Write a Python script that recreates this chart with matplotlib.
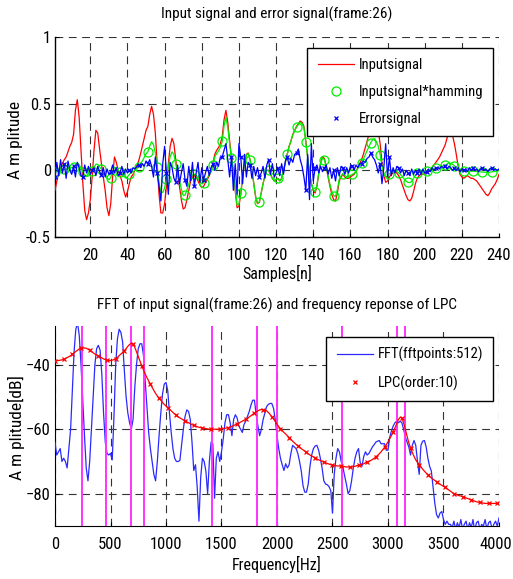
import numpy as np
import matplotlib
matplotlib.use("Agg")
import matplotlib.pyplot as plt
import matplotlib.transforms as mtransforms
from matplotlib.lines import Line2D
from matplotlib import font_manager

_names = {fe.name for fe in font_manager.fontManager.ttflist}
_narrow = [nm for nm in ['Liberation Sans Narrow', 'Roboto Condensed', 'Open Sans Condensed',
                         'Arial Narrow', 'Nimbus Sans Narrow'] if nm in _names]
if _narrow:
    plt.rcParams['font.family'] = [_narrow[0], 'DejaVu Sans']
    TITLE_FS, LEG_FS, XL_FS, TICK_FS, YL_FS = 11, 10.5, 11.5, 12, 12.5
else:
    plt.rcParams['font.family'] = ['Liberation Sans', 'DejaVu Sans']
    TITLE_FS, LEG_FS, XL_FS, TICK_FS, YL_FS = 9.5, 9.0, 9.5, 10, 11

# ---------------- data: top panel ----------------
input_signal = [
    -0.15, -0.08, -0.02, 0.02, 0.05, 0.08, 0.10, 0.14, 0.18, 0.21,
    0.27, 0.45, 0.53, 0.40, 0.15, -0.10, -0.30, -0.37, -0.32, -0.22,
    -0.05, 0.15, 0.30, 0.28, 0.16, 0.05, -0.05, -0.15, -0.28, -0.34,
    -0.25, -0.05, 0.10, 0.06, 0.00, -0.04, -0.08, -0.15, -0.20, -0.16,
    -0.10, -0.05, -0.03, 0.00, 0.03, 0.07, 0.12, 0.18, 0.24, 0.30,
    0.33, 0.42, 0.48, 0.42, 0.28, 0.05, -0.18, -0.32, -0.32, -0.25,
    -0.12, 0.05, 0.18, 0.24, 0.20, 0.08, -0.03, -0.12, -0.22, -0.29,
    -0.28, -0.22, -0.15, -0.08, -0.05, -0.04, -0.05, -0.08, -0.11, -0.13,
    -0.12, -0.09, -0.07, -0.04, -0.01, 0.05, 0.12, 0.15, 0.17, 0.20,
    0.25, 0.38, 0.45, 0.36, 0.22, 0.10, 0.00, -0.15, -0.28, -0.27,
    -0.18, -0.05, 0.05, 0.12, 0.13, 0.08, 0.00, -0.10, -0.20, -0.25,
    -0.24, -0.17, -0.10, -0.04, 0.00, 0.00, -0.03, -0.06, -0.08, -0.07,
    -0.06, -0.08, -0.06, 0.00, 0.06, 0.12, 0.18, 0.22, 0.27, 0.30,
    0.33, 0.35, 0.37, 0.36, 0.33, 0.22, 0.10, -0.02, -0.10, -0.15,
    -0.17, -0.12, -0.02, 0.06, 0.10, 0.09, 0.03, -0.05, -0.12, -0.18,
    -0.22, -0.23, -0.17, -0.08, -0.05, -0.03, -0.05, -0.06, -0.06, -0.05,
    -0.04, -0.03, -0.01, 0.02, 0.05, 0.08, 0.12, 0.17, 0.22, 0.27,
    0.32, 0.36, 0.38, 0.35, 0.30, 0.20, 0.06, -0.04, -0.09, -0.08,
    -0.05, -0.03, -0.02, -0.01, -0.02, -0.04, -0.07, -0.11, -0.15, -0.19,
    -0.22, -0.23, -0.21, -0.16, -0.10, -0.06, -0.04, -0.03, -0.03, -0.02,
    -0.02, -0.01, 0.00, 0.02, 0.04, 0.06, 0.08, 0.10, 0.13, 0.16,
    0.19, 0.24, 0.28, 0.29, 0.26, 0.20, 0.12, 0.03, -0.03, -0.05,
    -0.06, -0.05, -0.04, -0.05, -0.06, -0.06, -0.07, -0.08, -0.10, -0.12,
    -0.14, -0.16, -0.18, -0.19, -0.17, -0.14, -0.12, -0.10, -0.07, -0.03,
]

error_signal = [
    -0.05, 0.06, -0.04, 0.08, -0.02, 0.05, -0.06, 0.07, 0.00, -0.03,
    0.03, -0.05, 0.06, 0.02, -0.04, -0.05, 0.04, -0.02, 0.03, -0.03,
    0.00, 0.02, -0.04, 0.03, -0.01, -0.035, 0.02, -0.05, 0.01, -0.03,
    -0.01, 0.04, -0.02, 0.02, -0.04, -0.02, 0.03, -0.03, 0.01, -0.02,
    0.00, -0.02, 0.02, 0.01, 0.03, 0.04, 0.02, 0.05, 0.03, 0.07,
    0.05, 0.08, 0.03, -0.05, 0.10, -0.02, -0.12, -0.23, 0.05, 0.18,
    -0.02, -0.18, 0.06, 0.02, -0.06, -0.085, 0.04, -0.10, -0.02, 0.05,
    -0.07, -0.12, 0.03, -0.08, 0.06, -0.12, -0.02, 0.06, -0.09, 0.02,
    -0.07, -0.02, 0.03, -0.04, 0.02, 0.05, 0.00, 0.06, 0.03, 0.10,
    0.10, 0.15, 0.20, 0.08, -0.05, 0.10, -0.15, 0.05, -0.18, 0.20,
    0.10, -0.10, 0.12, -0.05, 0.06, 0.04, -0.06, 0.03, -0.04, 0.02,
    -0.05, -0.02, 0.03, -0.06, 0.04, 0.08, -0.03, 0.05, -0.05, -0.02,
    0.015, -0.04, 0.05, -0.03, 0.07, 0.10, 0.04, 0.09, 0.06, 0.12,
    0.13, 0.16, 0.08, 0.03, -0.05, -0.15, 0.12, -0.22, 0.20, -0.08,
    0.015, 0.04, -0.02, 0.03, -0.01, 0.015, 0.04, -0.03, 0.02, -0.06,
    0.00, -0.08, 0.02, -0.04, 0.03, 0.015, -0.03, 0.02, -0.02, 0.03,
    0.035, 0.00, 0.04, 0.02, 0.05, 0.05, 0.07, 0.06, 0.09, 0.10,
    0.13, 0.10, 0.08, 0.04, -0.02, 0.05, -0.10, 0.02, 0.20, -0.05,
    0.10, -0.04, 0.02, -0.02, 0.03, 0.015, -0.02, 0.01, -0.04, 0.00,
    -0.02, -0.04, 0.01, -0.03, 0.00, -0.02, 0.01, -0.03, 0.01, -0.02,
    -0.01, 0.01, -0.01, 0.02, 0.00, 0.015, 0.02, 0.01, 0.03, 0.02,
    0.03, 0.01, 0.03, 0.02, 0.00, 0.015, 0.00, 0.02, -0.01, 0.01,
    0.00, 0.01, -0.01, 0.02, 0.00, 0.015, 0.00, 0.01, -0.01, 0.01,
    0.015, 0.00, 0.01, -0.01, 0.01, 0.015, 0.00, 0.01, 0.00, 0.01,
]

top_xticks = [20, 40, 60, 80, 100, 120, 140, 160, 180, 200, 220, 240]
top_yticks = [-0.5, 0, 0.5, 1]
top_yticklabels = ['-0.5', '0', '0.5', '1']

# ---------------- data: bottom panel ----------------
fft_db = [
    -64, -68, -67, -66, -70, -69, -70, -72, -66, -60,
    -48, -36, -29, -27, -31, -40, -51, -62, -72, -76,
    -70, -60, -50, -40, -35, -34, -35.5, -43, -55, -64,
    -67.5, -68, -67.5, -69.5, -56, -40, -32, -29, -30, -33,
    -42, -50, -55, -58, -60, -57, -47, -40, -35, -33.5,
    -33.5, -37, -45, -53, -61, -66, -70, -74, -76, -70,
    -62, -55, -49, -46, -45.5, -48, -55, -61, -66, -69,
    -70, -70, -69.7, -65, -60, -56, -54, -54.5, -57, -64,
    -72.8, -71, -78, -88.5, -75, -69, -70, -73, -80, -70,
    -64, -64.5, -81.4, -69, -67, -70, -67, -63, -58, -55.5,
    -55.5, -58, -62, -57, -55.5, -56.5, -59, -60, -61, -58.5,
    -57.5, -56, -54.5, -52.5, -51, -51, -55.5, -59, -62, -60,
    -57, -55, -53, -52.3, -52, -52, -53.5, -57, -62, -66,
    -69, -71, -72.8, -70.7, -72, -71, -67.5, -65, -65.5, -66,
    -67.5, -70, -73, -77.5, -79.5, -79.5, -77, -71.5, -68, -66,
    -65.2, -65, -66.5, -69, -72, -76, -77, -77.2, -77.8, -79,
    -86, -74, -69, -66, -67, -70, -71.8, -74.5, -77, -80,
    -79, -76, -72, -69, -67, -66, -70.5, -71.5, -68.5, -67,
    -68, -67.5, -66.5, -65.5, -64.8, -64, -63.7, -63.5, -64.5, -64.5,
    -64.5, -66.5, -66.5, -62.5, -60.5, -59, -58, -57.5, -58, -57.5,
    -58, -60, -62.5, -64, -65.5, -68, -65, -63.5, -65, -70,
    -74, -65, -63.7, -63.5, -65.5, -69, -71.5, -73, -78, -83,
    -86.5, -87.5, -86, -85.5, -88, -89.5, -88.5, -89.5, -89.5, -90.5,
    -88.5, -91, -89, -90.5, -88, -91, -89.5, -88.5, -91, -89,
    -90.5, -88, -91.5, -89, -88.5, -91, -89.5, -90, -88, -91,
    -89, -88.5, -91, -89.5, -88.5, -90, -87.5,
]

lpc_db = [
    -38.8, -38.7, -38.7, -38.6, -38.5, -38.3, -38.1, -37.8, -37.5, -37.2,
    -36.8, -36.3, -35.9, -35.5, -35.1, -34.9, -34.8, -34.8, -34.9, -35.2,
    -35.5, -35.9, -36.3, -36.7, -37.0, -37.3, -37.6, -37.9, -38.2, -38.4,
    -38.6, -38.7, -38.7, -38.6, -38.4, -38.1, -37.7, -37.2, -36.7, -36.2,
    -35.6, -35.0, -34.3, -33.7, -33.4, -33.6, -34.6, -36.0, -37.5, -38.9,
    -40.3, -41.6, -42.9, -44.0, -45.0, -46.0, -47.0, -48.0, -48.9, -49.7,
    -50.4, -51.0, -51.7, -52.3, -52.8, -53.3, -53.8, -54.3, -54.8, -55.3,
    -55.7, -56.1, -56.5, -56.8, -57.1, -57.4, -57.7, -58.0, -58.3, -58.6,
    -58.8, -59.0, -59.2, -59.4, -59.5, -59.6, -59.7, -59.8, -59.9, -60.0,
    -60.0, -60.0, -60.0, -60.0, -60.0, -60.0, -59.9, -59.8, -59.7, -59.6,
    -59.5, -59.3, -59.1, -58.9, -58.6, -58.4, -58.1, -57.8, -57.5, -57.2,
    -56.9, -56.6, -56.2, -55.8, -55.4, -55.0, -54.6, -54.3, -54.0, -53.9,
    -53.9, -54.0, -54.3, -54.8, -55.4, -56.1, -56.8, -57.6, -58.4, -59.2,
    -59.8, -60.4, -61.0, -61.5, -62.0, -62.6, -63.1, -63.7, -64.2, -64.7,
    -65.1, -65.5, -66.0, -66.4, -66.8, -67.2, -67.6, -68.0, -68.3, -68.6,
    -68.9, -69.2, -69.5, -69.7, -70.0, -70.2, -70.4, -70.6, -70.8, -71.0,
    -71.1, -71.2, -71.3, -71.4, -71.4, -71.5, -71.6, -71.6, -71.7, -71.7,
    -71.7, -71.7, -71.6, -71.5, -71.3, -71.2, -71.0, -70.9, -70.7, -70.4,
    -70.2, -70.0, -69.7, -69.4, -69.0, -68.6, -68.1, -67.6, -67.0, -66.3,
    -65.6, -64.8, -63.9, -62.9, -61.9, -60.8, -59.6, -58.3, -57.0, -56.3,
    -56.5, -58.0, -60.0, -62.2, -64.2, -65.8, -67.2, -68.4, -69.5, -70.3,
    -71.0, -71.7, -72.4, -73.0, -73.6, -74.1, -74.6, -75.1, -75.5, -75.9,
    -76.3, -76.7, -77.0, -77.4, -77.7, -78.0, -78.4, -78.8, -79.2, -79.6,
    -80.0, -80.2, -80.4, -80.6, -80.7, -80.9, -81.1, -81.3, -81.5, -81.7,
    -81.9, -82.1, -82.3, -82.5, -82.6, -82.7, -82.8, -82.9, -83.0, -83.0,
    -83.0, -83.0, -83.0, -83.0, -83.0, -83.0, -83.0,
]

lsf_hz = [247, 457, 682, 800, 1415, 1824, 1996, 2587, 3083, 3150]

bottom_xticks = [0, 500, 1000, 1500, 2000, 2500, 3000, 3500, 4000]
bottom_yticks = [-80, -60, -40]

# ---------------- figure ----------------
W, H = 513, 579
fig = plt.figure(figsize=(W / 100, H / 100), dpi=100)

def ax_rect(l, t, r, b):
    return [l / W, 1 - b / H, (r - l) / W, (b - t) / H]

grid_kw = dict(color='0.2', linestyle=(0, (7, 5)), linewidth=0.8)
leg_kw = dict(loc='upper right', fontsize=LEG_FS, fancybox=False, framealpha=1,
              edgecolor='black', borderpad=0.7, labelspacing=0.9,
              handlelength=2.5, handletextpad=0.3, borderaxespad=0)

# ---- top axes ----
ax1 = fig.add_axes(ax_rect(55, 37, 499, 237))
n = np.arange(1, len(input_signal) + 1)
x_in = np.array(input_signal)
x_ham = x_in * np.hamming(len(x_in))
x_err = np.array(error_signal)

ax1.plot(n, x_in, color='#ff0000', lw=0.9, zorder=3)
ax1.plot(n, x_ham, color='#00ee00', lw=0.9, zorder=4)
ax1.plot(n[::5], x_ham[::5], ls='none', marker='o', mfc='none', mec='#00ee00',
         ms=6.5, mew=0.9, zorder=5)
ax1.plot(n, x_err, color='#0000ff', lw=0.9, zorder=6)
ax1.plot(n[::5], x_err[::5], ls='none', marker='x', color='#0000ff',
         ms=3.5, mew=0.9, zorder=7)

ax1.set_xlim(1, 240)
ax1.set_ylim(-0.5, 1)
ax1.set_xticks(top_xticks)
ax1.set_yticks(top_yticks)
ax1.set_yticklabels(top_yticklabels)
ax1.grid(True, **grid_kw)
ax1.set_axisbelow(True)
for s in ['top', 'right']:
    ax1.spines[s].set_visible(False)
for s in ['left', 'bottom']:
    ax1.spines[s].set_linewidth(1.0)
ax1.tick_params(direction='in', length=3, labelsize=TICK_FS)
ax1.tick_params(axis='x', pad=8)
ax1.tick_params(axis='y', pad=3)
ax1.set_title('Input signal and error signal(frame:26)', fontsize=TITLE_FS, pad=13)
ax1.set_xlabel('Samples[n]', fontsize=XL_FS, labelpad=1)
ax1.set_ylabel('A m plitude', fontsize=YL_FS)
ax1.yaxis.set_label_coords(-0.072, 0.485)

h1 = [Line2D([], [], color='#ff0000', lw=0.9),
      Line2D([], [], ls='none', marker='o', mfc='none', mec='#00ee00', ms=6.5, mew=0.9),
      Line2D([], [], ls='none', marker='x', color='#0000ff', ms=3.5, mew=0.9)]
leg1 = ax1.legend(h1, ['Inputsignal', 'Inputsignal*hamming', 'Errorsignal'],
                  bbox_to_anchor=(0.987, 0.947), **leg_kw)
leg1.get_frame().set_linewidth(1.0)
leg1.set_zorder(10)

# ---- bottom axes ----
ax2 = fig.add_axes(ax_rect(55, 326, 499, 526))
k = np.arange(len(fft_db))
f = k * 4000.0 / (len(fft_db) - 1)
fft_arr = np.array(fft_db)
lpc_arr = np.array(lpc_db)

ax2.plot(f, fft_arr, color='#2a2aff', lw=0.9, zorder=3)
for fr in lsf_hz:
    ax2.axvline(fr, color='#ff33ff', lw=1.4, zorder=4)
ax2.plot(f, lpc_arr, color='#ff0000', lw=0.9, zorder=5)
ax2.plot(f[::5], lpc_arr[::5], ls='none', marker='x', color='#ff0000',
         ms=3.5, mew=0.9, zorder=6)

ax2.set_xlim(0, 4000)
ax2.set_ylim(-90, -28)
ax2.set_xticks(bottom_xticks)
ax2.set_yticks(bottom_yticks)
ax2.grid(True, **grid_kw)
ax2.set_axisbelow(True)
for s in ['top', 'right']:
    ax2.spines[s].set_visible(False)
ax2.tick_params(direction='in', length=3, labelsize=TICK_FS)
ax2.tick_params(axis='x', pad=8)
ax2.tick_params(axis='y', pad=3)
ax2.set_title('FFT of input signal(frame:26) and frequency reponse of LPC',
              fontsize=TITLE_FS, pad=12)
ax2.set_xlabel('Frequency[Hz]', fontsize=XL_FS, labelpad=3)
ax2.set_ylabel('A m plitude[dB]', fontsize=YL_FS)
ax2.yaxis.set_label_coords(-0.068, 0.49)

# keep the last frequency label inside the canvas
fig.canvas.draw()
_lbl = ax2.get_xticklabels()[-1]
_lbl.set_transform(_lbl.get_transform() +
                   mtransforms.ScaledTranslation(-3 / 100, 0, fig.dpi_scale_trans))

h2 = [Line2D([], [], color='#2a2aff', lw=0.9),
      Line2D([], [], ls='none', marker='x', color='#ff0000', ms=3.5, mew=0.9)]
leg2 = ax2.legend(h2, ['FFT(fftpoints:512)', 'LPC(order:10)'],
                  bbox_to_anchor=(0.987, 0.9465), **leg_kw)
leg2.get_frame().set_linewidth(1.0)
leg2.set_zorder(10)

fig.savefig('out.png', dpi=100)
